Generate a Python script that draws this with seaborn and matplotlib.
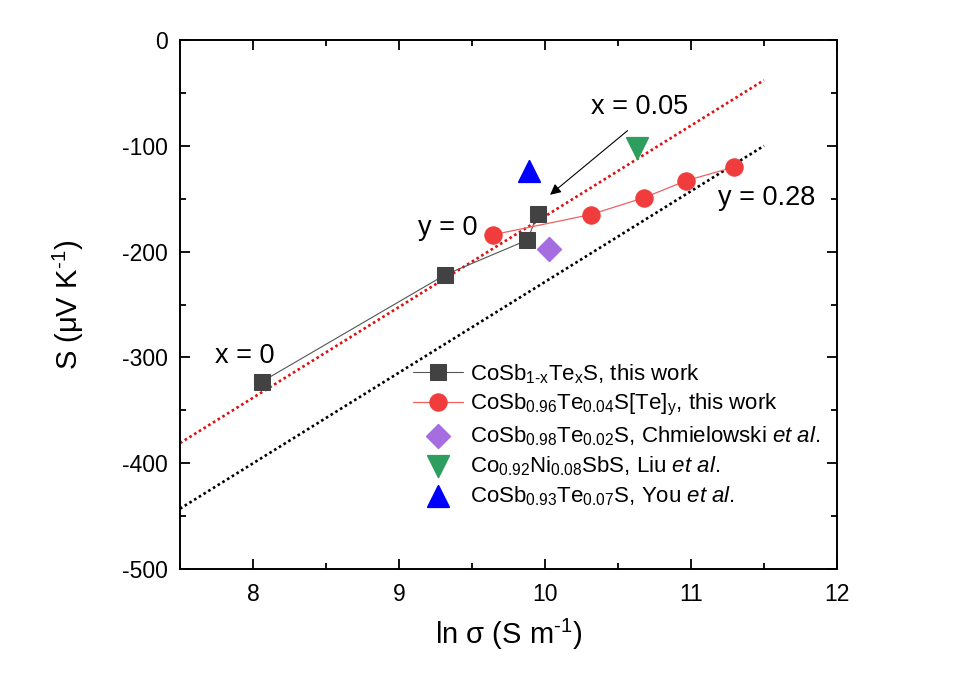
import numpy as np
import pandas as pd
import matplotlib
matplotlib.use("Agg")
import matplotlib.pyplot as plt
import seaborn as sns
from matplotlib.ticker import MultipleLocator

# ---- data ----
x_te = [8.06, 9.315, 9.88, 9.95]
s_te = [-323, -222, -189, -164]

x_tey = [9.646, 10.313, 10.68, 10.966, 11.297]
s_tey = [-184, -165, -149, -133, -120]

x_chm = [10.03]
s_chm = [-198]
x_liu = [10.63]
s_liu = [-102]
x_you = [9.89]
s_you = [-124]

# Pisarenko-type guide lines (endpoints)
x_guide = [7.5, 11.5]
s_guide_red = [-381, -38]
s_guide_black = [-443, -100]

labels = [
    r"CoSb$_{\mathregular{1\text{-}x}}$Te$_{\mathregular{x}}$S, this work",
    r"CoSb$_{\mathregular{0.96}}$Te$_{\mathregular{0.04}}$S[Te]$_{\mathregular{y}}$, this work",
    r"CoSb$_{\mathregular{0.98}}$Te$_{\mathregular{0.02}}$S, Chmielowski $\mathit{et\ al}$.",
    r"Co$_{\mathregular{0.92}}$Ni$_{\mathregular{0.08}}$SbS, Liu $\mathit{et\ al}$.",
    r"CoSb$_{\mathregular{0.93}}$Te$_{\mathregular{0.07}}$S, You $\mathit{et\ al}$.",
]

sns.set_theme(style="white")
plt.rcParams['font.family'] = ['Liberation Sans', 'DejaVu Sans']
plt.rcParams['mathtext.fontset'] = 'custom'
plt.rcParams['mathtext.rm'] = 'Liberation Sans'
plt.rcParams['mathtext.it'] = 'Liberation Sans:italic'
plt.rcParams['mathtext.bf'] = 'Liberation Sans:bold'
plt.rcParams['axes.unicode_minus'] = False
plt.rcParams['text.color'] = 'black'
plt.rcParams['axes.labelcolor'] = 'black'
plt.rcParams['legend.labelcolor'] = 'black'

fig, ax = plt.subplots(figsize=(9.58, 6.87), dpi=100)
fig.subplots_adjust(left=180/958, right=837/958, top=1-40/687, bottom=1-569/687)

c_black = '#424242'
c_red = '#f03c3c'
c_purple = '#a66de0'
c_green = '#2e9e5e'
c_blue = '#0000ff'

dot = (0, (1, 1.1))
sns.lineplot(x=x_guide, y=s_guide_red, ax=ax, color='#e01010', lw=1.9,
             linestyle=dot, legend=False, zorder=1)
sns.lineplot(x=x_guide, y=s_guide_black, ax=ax, color='black', lw=1.9,
             linestyle=dot, legend=False, zorder=1)
h_guides = len(ax.lines)

df_te = pd.DataFrame({'x': x_te, 's': s_te})
df_tey = pd.DataFrame({'x': x_tey, 's': s_tey})
sns.lineplot(data=df_te, x='x', y='s', sort=False, ax=ax, color='#555555', lw=0.8,
             marker='s', markersize=11, markerfacecolor=c_black,
             markeredgecolor=c_black, legend=False, zorder=3)
sns.lineplot(data=df_tey, x='x', y='s', sort=False, ax=ax, color='#f06060', lw=0.9,
             marker='o', markersize=12.5, markerfacecolor=c_red,
             markeredgecolor=c_red, legend=False, zorder=3)
line_te = ax.lines[h_guides]
line_tey = ax.lines[h_guides + 1]

sc_chm = sns.scatterplot(x=x_chm, y=s_chm, ax=ax, marker='D', s=150, color=c_purple,
                         edgecolor=c_purple, legend=False, zorder=3).collections[-1]
sc_liu = sns.scatterplot(x=x_liu, y=s_liu, ax=ax, marker='v', s=240, color=c_green,
                         edgecolor=c_green, legend=False, zorder=3).collections[-1]
sc_you = sns.scatterplot(x=x_you, y=s_you, ax=ax, marker='^', s=240, color=c_blue,
                         edgecolor=c_blue, legend=False, zorder=3).collections[-1]

ax.set_xlim(7.5, 12)
ax.set_ylim(-500, 0)
ax.xaxis.set_major_locator(MultipleLocator(1))
ax.xaxis.set_minor_locator(MultipleLocator(0.5))
ax.yaxis.set_major_locator(MultipleLocator(100))
ax.yaxis.set_minor_locator(MultipleLocator(50))
ax.tick_params(which='both', direction='in', top=True, right=True, bottom=True, left=True,
               width=1.3, colors='black')
ax.tick_params(which='major', length=7.5, labelsize=16.5)
ax.tick_params(axis='x', which='major', pad=10)
ax.tick_params(axis='y', which='major', pad=9)
ax.tick_params(which='minor', length=4)
for sp in ax.spines.values():
    sp.set_color('black')
    sp.set_linewidth(1.4)

ax.set_xlabel(r"ln $\mathregular{\sigma}$ (S m$^{\mathregular{\text{-}1}}$)", fontsize=21, labelpad=8)
ax.set_ylabel(r"S ($\mathregular{\mu}$V K$^{\mathregular{\text{-}1}}$)", fontsize=21, labelpad=26)

fs_ann = 19.5
ax.text(7.945, -299, "x = 0", fontsize=fs_ann, ha='center', va='center')
ax.text(9.335, -178, "y = 0", fontsize=fs_ann, ha='center', va='center')
ax.text(10.65, -63, "x = 0.05", fontsize=fs_ann, ha='center', va='center')
ax.text(11.52, -149, "y = 0.28", fontsize=fs_ann, ha='center', va='center')
ax.annotate("", xy=(10.02, -148), xytext=(10.58, -84),
            arrowprops=dict(arrowstyle='-|>', color='black', lw=0.8, mutation_scale=16))

ax.legend([line_te, line_tey, sc_chm, sc_liu, sc_you], labels,
          loc='upper left', bbox_to_anchor=(0.3546, 0.391), frameon=False,
          fontsize=16, handlelength=2.25, handletextpad=0.32, labelspacing=0.28,
          borderaxespad=0, borderpad=0, scatterpoints=1, labelcolor='black')

fig.savefig("out.png", dpi=100, facecolor='white')
